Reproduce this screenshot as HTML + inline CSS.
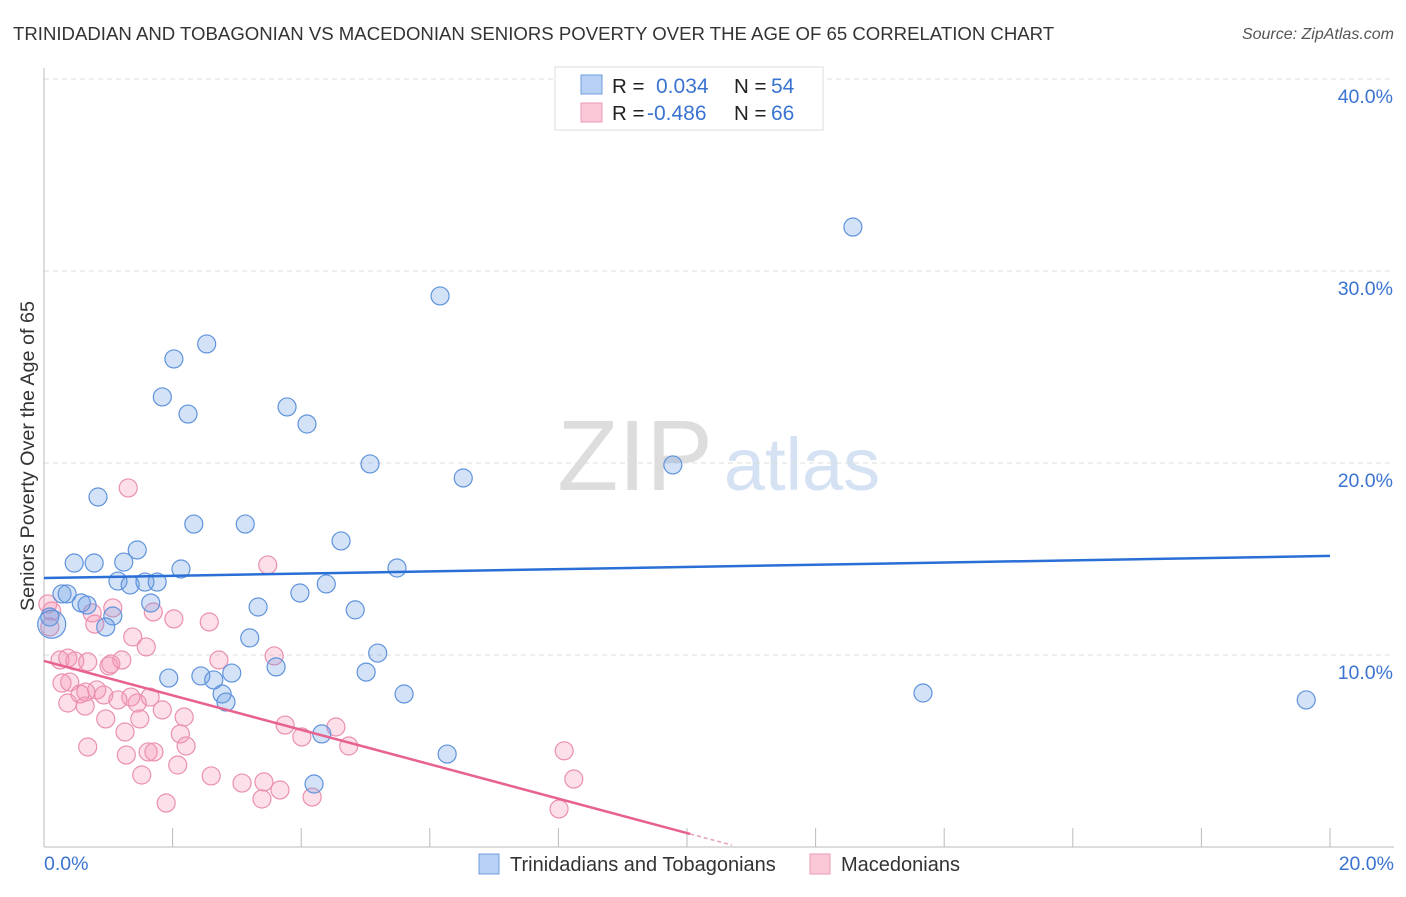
<!DOCTYPE html>
<html><head><meta charset="utf-8"><style>
body{margin:0;background:#fff;font-family:"Liberation Sans",sans-serif;}
svg text{font-family:"Liberation Sans",sans-serif;}
</style></head><body>
<svg id="chart" width="1406" height="892" viewBox="0 0 1406 892" xmlns="http://www.w3.org/2000/svg">
<text x="13" y="40" font-size="18.6" fill="#333">TRINIDADIAN AND TOBAGONIAN VS MACEDONIAN SENIORS POVERTY OVER THE AGE OF 65 CORRELATION CHART</text>
<text x="1394" y="39" font-size="16" fill="#555" text-anchor="end" font-style="italic">Source: ZipAtlas.com</text>
<g>
<text x="635" y="490" font-size="100" fill="#ddd" text-anchor="middle" font-family="Liberation Serif, serif">ZIP</text>
<text x="802" y="490" font-size="74" fill="#d5e2f3" text-anchor="middle">atlas</text>
</g>
<g id="grid"></g>
<g id="axes"></g>
<g id="marks"></g>
<text transform="translate(34,456) rotate(-90)" font-size="19.8" fill="#333" text-anchor="middle">Seniors Poverty Over the Age of 65</text>
<g>
<rect x="555" y="67" width="268" height="63" fill="#fff" stroke="#ddd"/>
<rect x="581" y="75" width="21" height="19" fill="#b8d0f3" stroke="#6f9ee0"/>
<rect x="581" y="103" width="21" height="19" fill="#fac8d7" stroke="#ee9ab4"/>
<text x="612" y="93" font-size="20.5" fill="#222">R =</text>
<text x="656" y="93" font-size="21" fill="#3a74d0">0.034</text>
<text x="734" y="93" font-size="20.5" fill="#222">N =</text>
<text x="771" y="93" font-size="21" fill="#3a74d0">54</text>
<text x="612" y="120" font-size="20.5" fill="#222">R =</text>
<text x="647" y="120" font-size="21" fill="#3a74d0">-0.486</text>
<text x="734" y="120" font-size="20.5" fill="#222">N =</text>
<text x="771" y="120" font-size="21" fill="#3a74d0">66</text>
</g>
<g>
<rect x="479" y="854" width="20" height="20" fill="#b8d0f3" stroke="#6f9ee0"/>
<text x="510" y="871" font-size="20" fill="#333">Trinidadians and Tobagonians</text>
<rect x="810" y="854" width="20" height="20" fill="#fac8d7" stroke="#ee9ab4"/>
<text x="841" y="871" font-size="20" fill="#333">Macedonians</text>
</g>
</svg>
<script>
const xTicks=[0,20];
const yTicks=[10,20,30,40];
const blueX=[12.58,6.16,2.53,2.02,1.84,2.24,3.78,4.09,5.07,6.52,9.78,0.84,2.33,3.13,4.62,1.45,0.47,0.78,1.24,2.13,5.49,1.15,1.34,1.57,1.76,4.39,0.28,0.36,0.58,0.67,1.66,3.98,3.33,4.84,0.09,1.07,0.96,3.20,5.19,3.61,5.01,1.94,2.44,2.64,2.92,2.77,2.83,5.60,13.67,19.63,4.32,6.27,4.20,0.12];
const blueY=[32.29,28.70,26.20,25.42,23.44,22.55,22.92,22.03,19.95,19.22,19.90,18.23,16.82,16.82,15.94,15.47,14.79,14.79,14.84,14.48,14.53,13.85,13.65,13.80,13.80,13.70,13.18,13.18,12.71,12.60,12.71,13.23,12.50,12.35,11.98,12.03,11.46,10.89,10.10,9.38,9.11,8.80,8.91,8.70,9.06,7.97,7.55,7.97,8.02,7.66,5.89,4.84,3.28,11.6];
const pinkX=[1.31,3.48,1.07,1.70,2.02,2.57,0.75,0.79,0.06,0.12,0.09,1.38,1.59,0.25,0.37,0.48,0.68,1.01,1.04,1.21,2.72,3.58,0.28,0.40,0.82,0.65,0.56,0.93,1.35,1.65,1.15,1.45,0.37,0.64,1.84,2.18,0.96,1.49,1.26,2.12,2.21,0.68,1.62,1.71,1.28,2.08,1.52,2.60,3.08,3.42,3.67,3.39,4.17,1.90,3.75,4.01,4.54,4.74,8.09,8.24,8.01];
const pinkY=[18.70,14.69,12.45,12.24,11.88,11.72,12.19,11.61,12.66,12.29,11.46,10.94,10.42,9.74,9.84,9.69,9.64,9.43,9.53,9.74,9.74,9.95,8.54,8.59,8.18,8.07,7.97,7.92,7.81,7.81,7.66,7.50,7.50,7.34,7.14,6.77,6.67,6.67,5.99,5.89,5.26,5.21,4.95,4.95,4.79,4.27,3.75,3.70,3.33,3.39,2.97,2.50,2.60,2.29,6.35,5.73,6.25,5.26,5.01,3.54,1.98];
const blueTrend=[14.01,15.16];
const pinkTrend=[9.69,-8.24];
const NS='http://www.w3.org/2000/svg';
const X0=44,X1=1330,Y0=847,Y40=79;
const sx=v=>X0+(X1-X0)*v/20;
const sy=v=>Y0-(Y0-Y40)*v/40;
function mk(tag,attrs,parent){const e=document.createElementNS(NS,tag);for(const k in attrs)e.setAttribute(k,attrs[k]);parent.appendChild(e);return e;}
const grid=document.getElementById('grid'),axes=document.getElementById('axes'),marks=document.getElementById('marks');
yTicks.forEach(t=>{
 const l=mk('line',{x1:X0,x2:1394,y1:sy(t),y2:sy(t),stroke:'#ddd','stroke-dasharray':'5,4'},grid);
 
 
 const tx=mk('text',{x:1393,y:sy(t)+24,'font-size':19.5,fill:'#3a74d0','text-anchor':'end'},axes);
 tx.textContent=t.toFixed(1)+'%';
 
 
});
const a1=mk('line',{x1:X0,x2:X0,y1:68,y2:Y0,stroke:'#bbb'},axes);


const a2=mk('line',{x1:X0,x2:1394,y1:Y0,y2:Y0,stroke:'#bbb'},axes);


for(let i=0;i<=10;i++){
 const tk=mk('line',{x1:sx(i*2),x2:sx(i*2),y1:828,y2:Y0,stroke:'#bbb'},axes);
 
 
}
xTicks.forEach((t,i)=>{
 const tx=mk('text',{x:i==0?44:1394,y:870,'font-size':19.5,fill:'#3a74d0','text-anchor':i==0?'start':'end'},axes);
 tx.textContent=t.toFixed(1)+'%';
 
 
});
function dots(xs,ys,fill,stroke,name){
 xs.forEach((v,i)=>{
  const c=mk('circle',{cx:sx(v),cy:sy(ys[i]),r:(name=='blue-point'&&i==xs.length-1)?14:9,fill:fill,stroke:stroke,'stroke-width':1.2},marks);
  
  
 });
}
dots(pinkX,pinkY,'rgba(244,150,180,0.3)','#ea90ae','pink-point');
dots(blueX,blueY,'rgba(110,160,230,0.3)','#5f93dc','blue-point');
const bt=mk('line',{x1:sx(0),y1:sy(blueTrend[0]),x2:sx(20),y2:sy(blueTrend[1]),stroke:'#2a6fd6','stroke-width':2.5},marks);


const pv=x=>pinkTrend[0]+(pinkTrend[1]-pinkTrend[0])*x/20;
const xEnd=10.05;
const pt=mk('line',{x1:sx(0),y1:sy(pv(0)),x2:sx(xEnd),y2:sy(pv(xEnd)),stroke:'#e8628e','stroke-width':2.5},marks);


const pd=mk('line',{x1:sx(xEnd),y1:sy(pv(xEnd)),x2:sx(10.7),y2:sy(pv(10.7)),stroke:'#e8a0b8','stroke-width':1.5,'stroke-dasharray':'4,3'},marks);


</script>
</body></html>
